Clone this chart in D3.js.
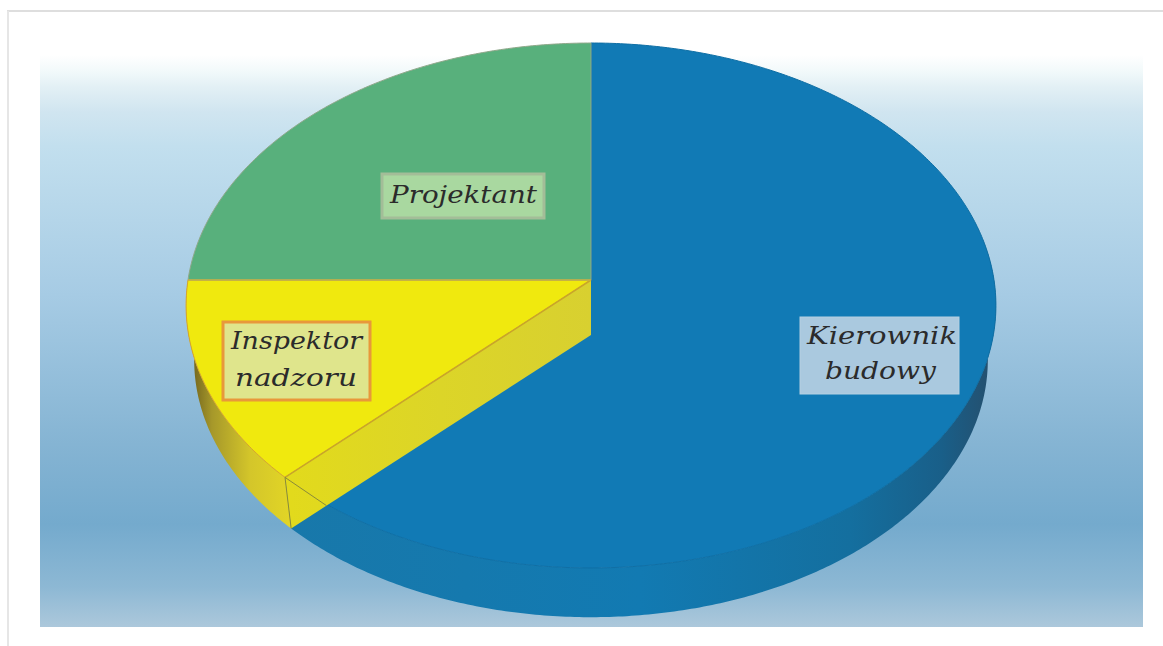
<!DOCTYPE html>
<html>
<head>
<meta charset="utf-8">
<script src="https://cdn.jsdelivr.net/npm/d3@7"></script>
<style>
  html, body { margin: 0; padding: 0; background: #fff; overflow: hidden; }
  text { font-family: "DejaVu Serif", serif; font-style: italic; fill: #2b2b2b; }
</style>
</head>
<body>
<div id="chart"></div>
<script>
// slices go clockwise from 12 o'clock
var categories = ["Kierownik budowy", "Inspektor nadzoru", "Projektant"];
var shares = [62.5, 12.5, 25];
var labelLines = [["Kierownik", "budowy"], ["Inspektor", "nadzoru"], ["Projektant"]];

var width = 1163, height = 646;

var faceColor = ["#117ab5", "#f0e90e", "#58b07c"];
var edgeColor = ["#0f6fa5", "#d9a52c", "#8fa88a"];

// label boxes, text widths and baselines measured on the picture
var boxes = [
  {x: 800, y: 317, w: 159, h: 77, fill: "#aac9df", stroke: "#b5d0e2", sw: 1,
   lines: [{x: 807, y: 344, len: 150}, {x: 825, y: 379, len: 111}]},
  {x: 223, y: 322, w: 147, h: 78, fill: "#dfe58c", stroke: "#e8983a", sw: 3,
   lines: [{x: 231, y: 349, len: 131}, {x: 235, y: 386, len: 122}]},
  {x: 382, y: 174, w: 162, h: 44, fill: "#a9d8a0", stroke: "#a3bd98", sw: 3,
   lines: [{x: 390, y: 203, len: 147}]}
];

var svg = d3.select("#chart").append("svg")
  .attr("width", width)
  .attr("height", height);

var defs = svg.append("defs");

defs.append("filter").attr("id", "soft")
  .append("feGaussianBlur").attr("stdDeviation", 0.7);

function gradient(id, horizontal, stops) {
  var g = defs.append("linearGradient")
    .attr("id", id)
    .attr("gradientUnits", "userSpaceOnUse");
  g.attr("x1", horizontal ? horizontal[0] : 0).attr("x2", horizontal ? horizontal[1] : 0)
   .attr("y1", horizontal ? 0 : 55).attr("y2", horizontal ? 0 : 627);
  g.selectAll("stop").data(stops).enter().append("stop")
    .attr("offset", function(d) { return d[0]; })
    .attr("stop-color", function(d) { return d[1]; });
}

gradient("bg", null, [
  [0, "#ffffff"], [0.03, "#f1f9fa"], [0.055, "#e3f0f5"], [0.1, "#d0e5f0"],
  [0.16, "#c2dfee"], [0.42, "#a6cbe4"], [0.68, "#85b4d3"], [0.82, "#74aacd"],
  [0.93, "#8db8d4"], [1, "#acc8db"]
]);
gradient("blueSide", [290, 990], [
  [0, "#1878aa"], [0.5, "#127ab2"], [0.8, "#146f9f"], [0.93, "#195f89"], [1, "#24506f"]
]);
gradient("yellowSide", [190, 300], [
  [0, "#6d5f1c"], [0.2, "#a6982a"], [0.55, "#d4c62a"], [1, "#e5d925"]
]);
gradient("wall", [290, 591], [
  [0, "#e2da1c"], [0.5, "#dcd528"], [1, "#d8d030"]
]);

// paper frame
svg.append("line").attr("x1", 7).attr("x2", width).attr("y1", 11).attr("y2", 11)
  .attr("stroke", "#dedede").attr("stroke-width", 2);
svg.append("line").attr("x1", 8).attr("x2", 8).attr("y1", 11).attr("y2", height)
  .attr("stroke", "#e6e6e6").attr("stroke-width", 2);

svg.append("rect")
  .attr("x", 40).attr("y", 55).attr("width", 1103).attr("height", 572)
  .attr("fill", "url(#bg)");

// perspective of the pie disc: near half is drawn bigger than the far half
var cx = 591, cy = 280, discX = 403, discY = 260, persp = -0.0971;
var depth = 55, bottomScale = 0.98;

function project(angle, r, level) {
  var u = Math.sin(angle) * r, v = -Math.cos(angle) * r;
  var w = 1 + persp * v;
  var s = level ? bottomScale : 1;
  return [cx + s * discX * u / w, cy + (level ? depth : 0) + s * discY * v / w];
}

var pie = d3.pie().sort(null)(shares);
var line = d3.line();

function arcPoints(a0, a1, level) {
  var n = Math.max(2, Math.ceil((a1 - a0) / 0.01));
  return d3.range(n + 1).map(function(i) {
    return project(a0 + (a1 - a0) * i / n, 1, level);
  });
}

var blue = pie[0], yellow = pie[1], green = pie[2];
var layer = svg.append("g");

// rim strips
layer.append("path")
  .attr("d", line(arcPoints(Math.PI / 2 * 0.9, blue.endAngle, 0)
    .concat(arcPoints(Math.PI / 2 * 0.9, blue.endAngle, 1).reverse())) + "Z")
  .attr("fill", "url(#blueSide)");
layer.append("path")
  .attr("d", line(arcPoints(yellow.startAngle, yellow.endAngle, 0)
    .concat(arcPoints(yellow.startAngle, yellow.endAngle, 1).reverse())) + "Z")
  .attr("fill", "url(#yellowSide)");

// top faces
layer.selectAll("path.face")
  .data(pie)
  .enter()
  .append("path")
  .attr("class", "face")
  .attr("d", function(d) {
    return line([[cx, cy]].concat(arcPoints(d.startAngle, d.endAngle, 0))) + "Z";
  })
  .attr("fill", function(d, i) { return faceColor[i]; })
  .attr("stroke", function(d, i) { return edgeColor[i]; })
  .attr("stroke-width", 1);

// cut wall of the yellow slice, it hides part of the blue face
var rimTop = project(yellow.startAngle, 1, 0);
var rimBottom = project(yellow.startAngle, 1, 1);
var wallBottom = [cx, cy + depth];
layer.append("path")
  .attr("d", line([[cx, cy], rimTop, rimBottom, wallBottom]) + "Z")
  .attr("fill", "url(#wall)");
layer.append("path")
  .attr("d", line([[cx, cy], rimTop]))
  .attr("fill", "none").attr("stroke", "#c9a52a").attr("stroke-width", 1.5);
layer.append("path")
  .attr("d", line([rimTop, rimBottom]))
  .attr("fill", "none").attr("stroke", "#8a8a3a").attr("stroke-width", 1);

var fold = d3.interpolate(rimBottom, wallBottom)(0.118);
layer.append("path")
  .attr("d", line([rimTop, fold]))
  .attr("fill", "none").attr("stroke", "#8a8a3a").attr("stroke-width", 1);

// slice boundary on the far side
layer.append("path")
  .attr("d", line([[cx, cy], project(green.startAngle, 1, 0)]))
  .attr("fill", "none").attr("stroke", "#c9b040").attr("stroke-width", 1.5);

// labels
var labels = svg.selectAll("g.label")
  .data(categories)
  .enter()
  .append("g")
  .attr("class", "label");

labels.append("rect")
  .attr("x", function(d, i) { return boxes[i].x; })
  .attr("y", function(d, i) { return boxes[i].y; })
  .attr("width", function(d, i) { return boxes[i].w; })
  .attr("height", function(d, i) { return boxes[i].h; })
  .attr("fill", function(d, i) { return boxes[i].fill; })
  .attr("stroke", function(d, i) { return boxes[i].stroke; })
  .attr("stroke-width", function(d, i) { return boxes[i].sw; })
  .attr("filter", "url(#soft)");

labels.each(function(d, i) {
  d3.select(this).selectAll("text")
    .data(labelLines[i])
    .enter()
    .append("text")
    .attr("x", function(t, j) { return boxes[i].lines[j].x; })
    .attr("y", function(t, j) { return boxes[i].lines[j].y; })
    .attr("textLength", function(t, j) { return boxes[i].lines[j].len; })
    .attr("lengthAdjust", "spacingAndGlyphs")
    .attr("font-size", 25)
    .text(function(t) { return t; });
});
</script>
</body>
</html>
